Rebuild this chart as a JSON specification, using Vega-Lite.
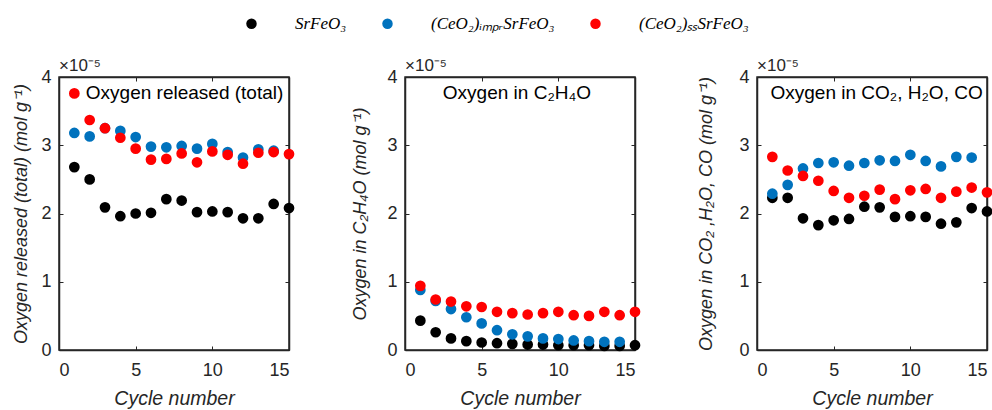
{
  "$schema": "https://vega.github.io/schema/vega-lite/v6.json",
  "padding": {"left": 12, "top": 15, "right": 0, "bottom": 0},
  "background": "white",
  "spacing": 55,
  "align": "none",
  "config": {
    "view": {"stroke": "#262626", "strokeWidth": 1.5},
    "axis": {
      "grid": false, "domain": true, "domainColor": "#262626", "domainWidth": 1.5,
      "labelFont": "Liberation Sans", "labelFontSize": 18, "labelColor": "#262626",
      "titleFont": "Liberation Sans", "titleFontSize": 18, "titleFontStyle": "italic", "titleFontWeight": "normal", "titleColor": "#262626",
      "tickColor": "#262626", "tickSize": -4, "tickWidth": 1, "labelPadding": 12
    },
    "axisX": {"labelPadding": 15},
    "legend": {
      "orient": "none", "direction": "horizontal", "legendX": 184, "legendY": -62,
      "labelFont": "Liberation Serif", "labelFontStyle": "italic", "labelFontSize": 17, "labelColor": "#000000",
      "symbolType": "circle", "symbolSize": 110, "symbolStrokeWidth": 0, "labelOffset": 35, "columnPadding": 32, "title": null
    },
    "text": {"font": "Liberation Sans", "color": "#000000"}
  },
  "data": {"values": [
    {"panel":"total","sample":"SrFeO₃","cycle":1,"value":2.68},
    {"panel":"total","sample":"SrFeO₃","cycle":2,"value":2.50},
    {"panel":"total","sample":"SrFeO₃","cycle":3,"value":2.09},
    {"panel":"total","sample":"SrFeO₃","cycle":4,"value":1.96},
    {"panel":"total","sample":"SrFeO₃","cycle":5,"value":2.00},
    {"panel":"total","sample":"SrFeO₃","cycle":6,"value":2.01},
    {"panel":"total","sample":"SrFeO₃","cycle":7,"value":2.21},
    {"panel":"total","sample":"SrFeO₃","cycle":8,"value":2.19},
    {"panel":"total","sample":"SrFeO₃","cycle":9,"value":2.02},
    {"panel":"total","sample":"SrFeO₃","cycle":10,"value":2.03},
    {"panel":"total","sample":"SrFeO₃","cycle":11,"value":2.02},
    {"panel":"total","sample":"SrFeO₃","cycle":12,"value":1.93},
    {"panel":"total","sample":"SrFeO₃","cycle":13,"value":1.93},
    {"panel":"total","sample":"SrFeO₃","cycle":14,"value":2.14},
    {"panel":"total","sample":"SrFeO₃","cycle":15,"value":2.08},
    {"panel":"total","sample":"(CeO₂)ᵢₘₚᵣSrFeO₃","cycle":1,"value":3.18},
    {"panel":"total","sample":"(CeO₂)ᵢₘₚᵣSrFeO₃","cycle":2,"value":3.13},
    {"panel":"total","sample":"(CeO₂)ᵢₘₚᵣSrFeO₃","cycle":3,"value":3.25},
    {"panel":"total","sample":"(CeO₂)ᵢₘₚᵣSrFeO₃","cycle":4,"value":3.21},
    {"panel":"total","sample":"(CeO₂)ᵢₘₚᵣSrFeO₃","cycle":5,"value":3.12},
    {"panel":"total","sample":"(CeO₂)ᵢₘₚᵣSrFeO₃","cycle":6,"value":2.98},
    {"panel":"total","sample":"(CeO₂)ᵢₘₚᵣSrFeO₃","cycle":7,"value":2.97},
    {"panel":"total","sample":"(CeO₂)ᵢₘₚᵣSrFeO₃","cycle":8,"value":2.99},
    {"panel":"total","sample":"(CeO₂)ᵢₘₚᵣSrFeO₃","cycle":9,"value":2.95},
    {"panel":"total","sample":"(CeO₂)ᵢₘₚᵣSrFeO₃","cycle":10,"value":3.02},
    {"panel":"total","sample":"(CeO₂)ᵢₘₚᵣSrFeO₃","cycle":11,"value":2.90},
    {"panel":"total","sample":"(CeO₂)ᵢₘₚᵣSrFeO₃","cycle":12,"value":2.82},
    {"panel":"total","sample":"(CeO₂)ᵢₘₚᵣSrFeO₃","cycle":13,"value":2.94},
    {"panel":"total","sample":"(CeO₂)ᵢₘₚᵣSrFeO₃","cycle":14,"value":2.92},
    {"panel":"total","sample":"(CeO₂)ₛₛSrFeO₃","cycle":1,"value":3.76},
    {"panel":"total","sample":"(CeO₂)ₛₛSrFeO₃","cycle":2,"value":3.37},
    {"panel":"total","sample":"(CeO₂)ₛₛSrFeO₃","cycle":3,"value":3.25},
    {"panel":"total","sample":"(CeO₂)ₛₛSrFeO₃","cycle":4,"value":3.11},
    {"panel":"total","sample":"(CeO₂)ₛₛSrFeO₃","cycle":5,"value":2.95},
    {"panel":"total","sample":"(CeO₂)ₛₛSrFeO₃","cycle":6,"value":2.79},
    {"panel":"total","sample":"(CeO₂)ₛₛSrFeO₃","cycle":7,"value":2.80},
    {"panel":"total","sample":"(CeO₂)ₛₛSrFeO₃","cycle":8,"value":2.88},
    {"panel":"total","sample":"(CeO₂)ₛₛSrFeO₃","cycle":9,"value":2.75},
    {"panel":"total","sample":"(CeO₂)ₛₛSrFeO₃","cycle":10,"value":2.91},
    {"panel":"total","sample":"(CeO₂)ₛₛSrFeO₃","cycle":11,"value":2.86},
    {"panel":"total","sample":"(CeO₂)ₛₛSrFeO₃","cycle":12,"value":2.73},
    {"panel":"total","sample":"(CeO₂)ₛₛSrFeO₃","cycle":13,"value":2.89},
    {"panel":"total","sample":"(CeO₂)ₛₛSrFeO₃","cycle":14,"value":2.90},
    {"panel":"total","sample":"(CeO₂)ₛₛSrFeO₃","cycle":15,"value":2.87},
    {"panel":"c2h4o","sample":"SrFeO₃","cycle":1,"value":0.43},
    {"panel":"c2h4o","sample":"SrFeO₃","cycle":2,"value":0.26},
    {"panel":"c2h4o","sample":"SrFeO₃","cycle":3,"value":0.17},
    {"panel":"c2h4o","sample":"SrFeO₃","cycle":4,"value":0.13},
    {"panel":"c2h4o","sample":"SrFeO₃","cycle":5,"value":0.11},
    {"panel":"c2h4o","sample":"SrFeO₃","cycle":6,"value":0.10},
    {"panel":"c2h4o","sample":"SrFeO₃","cycle":7,"value":0.09},
    {"panel":"c2h4o","sample":"SrFeO₃","cycle":8,"value":0.08},
    {"panel":"c2h4o","sample":"SrFeO₃","cycle":9,"value":0.08},
    {"panel":"c2h4o","sample":"SrFeO₃","cycle":10,"value":0.07},
    {"panel":"c2h4o","sample":"SrFeO₃","cycle":11,"value":0.07},
    {"panel":"c2h4o","sample":"SrFeO₃","cycle":12,"value":0.07},
    {"panel":"c2h4o","sample":"SrFeO₃","cycle":13,"value":0.06},
    {"panel":"c2h4o","sample":"SrFeO₃","cycle":14,"value":0.06},
    {"panel":"c2h4o","sample":"SrFeO₃","cycle":15,"value":0.07},
    {"panel":"c2h4o","sample":"(CeO₂)ᵢₘₚᵣSrFeO₃","cycle":1,"value":0.88},
    {"panel":"c2h4o","sample":"(CeO₂)ᵢₘₚᵣSrFeO₃","cycle":2,"value":0.72},
    {"panel":"c2h4o","sample":"(CeO₂)ᵢₘₚᵣSrFeO₃","cycle":3,"value":0.60},
    {"panel":"c2h4o","sample":"(CeO₂)ᵢₘₚᵣSrFeO₃","cycle":4,"value":0.48},
    {"panel":"c2h4o","sample":"(CeO₂)ᵢₘₚᵣSrFeO₃","cycle":5,"value":0.39},
    {"panel":"c2h4o","sample":"(CeO₂)ᵢₘₚᵣSrFeO₃","cycle":6,"value":0.29},
    {"panel":"c2h4o","sample":"(CeO₂)ᵢₘₚᵣSrFeO₃","cycle":7,"value":0.23},
    {"panel":"c2h4o","sample":"(CeO₂)ᵢₘₚᵣSrFeO₃","cycle":8,"value":0.20},
    {"panel":"c2h4o","sample":"(CeO₂)ᵢₘₚᵣSrFeO₃","cycle":9,"value":0.17},
    {"panel":"c2h4o","sample":"(CeO₂)ᵢₘₚᵣSrFeO₃","cycle":10,"value":0.16},
    {"panel":"c2h4o","sample":"(CeO₂)ᵢₘₚᵣSrFeO₃","cycle":11,"value":0.14},
    {"panel":"c2h4o","sample":"(CeO₂)ᵢₘₚᵣSrFeO₃","cycle":12,"value":0.13},
    {"panel":"c2h4o","sample":"(CeO₂)ᵢₘₚᵣSrFeO₃","cycle":13,"value":0.12},
    {"panel":"c2h4o","sample":"(CeO₂)ᵢₘₚᵣSrFeO₃","cycle":14,"value":0.12},
    {"panel":"c2h4o","sample":"(CeO₂)ₛₛSrFeO₃","cycle":1,"value":0.94},
    {"panel":"c2h4o","sample":"(CeO₂)ₛₛSrFeO₃","cycle":2,"value":0.74},
    {"panel":"c2h4o","sample":"(CeO₂)ₛₛSrFeO₃","cycle":3,"value":0.71},
    {"panel":"c2h4o","sample":"(CeO₂)ₛₛSrFeO₃","cycle":4,"value":0.64},
    {"panel":"c2h4o","sample":"(CeO₂)ₛₛSrFeO₃","cycle":5,"value":0.63},
    {"panel":"c2h4o","sample":"(CeO₂)ₛₛSrFeO₃","cycle":6,"value":0.56},
    {"panel":"c2h4o","sample":"(CeO₂)ₛₛSrFeO₃","cycle":7,"value":0.54},
    {"panel":"c2h4o","sample":"(CeO₂)ₛₛSrFeO₃","cycle":8,"value":0.52},
    {"panel":"c2h4o","sample":"(CeO₂)ₛₛSrFeO₃","cycle":9,"value":0.54},
    {"panel":"c2h4o","sample":"(CeO₂)ₛₛSrFeO₃","cycle":10,"value":0.56},
    {"panel":"c2h4o","sample":"(CeO₂)ₛₛSrFeO₃","cycle":11,"value":0.51},
    {"panel":"c2h4o","sample":"(CeO₂)ₛₛSrFeO₃","cycle":12,"value":0.50},
    {"panel":"c2h4o","sample":"(CeO₂)ₛₛSrFeO₃","cycle":13,"value":0.56},
    {"panel":"c2h4o","sample":"(CeO₂)ₛₛSrFeO₃","cycle":14,"value":0.51},
    {"panel":"c2h4o","sample":"(CeO₂)ₛₛSrFeO₃","cycle":15,"value":0.56},
    {"panel":"co2","sample":"SrFeO₃","cycle":1,"value":2.23},
    {"panel":"co2","sample":"SrFeO₃","cycle":2,"value":2.23},
    {"panel":"co2","sample":"SrFeO₃","cycle":3,"value":1.93},
    {"panel":"co2","sample":"SrFeO₃","cycle":4,"value":1.83},
    {"panel":"co2","sample":"SrFeO₃","cycle":5,"value":1.90},
    {"panel":"co2","sample":"SrFeO₃","cycle":6,"value":1.92},
    {"panel":"co2","sample":"SrFeO₃","cycle":7,"value":2.10},
    {"panel":"co2","sample":"SrFeO₃","cycle":8,"value":2.09},
    {"panel":"co2","sample":"SrFeO₃","cycle":9,"value":1.95},
    {"panel":"co2","sample":"SrFeO₃","cycle":10,"value":1.96},
    {"panel":"co2","sample":"SrFeO₃","cycle":11,"value":1.95},
    {"panel":"co2","sample":"SrFeO₃","cycle":12,"value":1.85},
    {"panel":"co2","sample":"SrFeO₃","cycle":13,"value":1.87},
    {"panel":"co2","sample":"SrFeO₃","cycle":14,"value":2.08},
    {"panel":"co2","sample":"SrFeO₃","cycle":15,"value":2.03},
    {"panel":"co2","sample":"(CeO₂)ᵢₘₚᵣSrFeO₃","cycle":1,"value":2.29},
    {"panel":"co2","sample":"(CeO₂)ᵢₘₚᵣSrFeO₃","cycle":2,"value":2.42},
    {"panel":"co2","sample":"(CeO₂)ᵢₘₚᵣSrFeO₃","cycle":3,"value":2.66},
    {"panel":"co2","sample":"(CeO₂)ᵢₘₚᵣSrFeO₃","cycle":4,"value":2.74},
    {"panel":"co2","sample":"(CeO₂)ᵢₘₚᵣSrFeO₃","cycle":5,"value":2.75},
    {"panel":"co2","sample":"(CeO₂)ᵢₘₚᵣSrFeO₃","cycle":6,"value":2.70},
    {"panel":"co2","sample":"(CeO₂)ᵢₘₚᵣSrFeO₃","cycle":7,"value":2.74},
    {"panel":"co2","sample":"(CeO₂)ᵢₘₚᵣSrFeO₃","cycle":8,"value":2.78},
    {"panel":"co2","sample":"(CeO₂)ᵢₘₚᵣSrFeO₃","cycle":9,"value":2.77},
    {"panel":"co2","sample":"(CeO₂)ᵢₘₚᵣSrFeO₃","cycle":10,"value":2.86},
    {"panel":"co2","sample":"(CeO₂)ᵢₘₚᵣSrFeO₃","cycle":11,"value":2.77},
    {"panel":"co2","sample":"(CeO₂)ᵢₘₚᵣSrFeO₃","cycle":12,"value":2.69},
    {"panel":"co2","sample":"(CeO₂)ᵢₘₚᵣSrFeO₃","cycle":13,"value":2.83},
    {"panel":"co2","sample":"(CeO₂)ᵢₘₚᵣSrFeO₃","cycle":14,"value":2.82},
    {"panel":"co2","sample":"(CeO₂)ₛₛSrFeO₃","cycle":1,"value":2.83},
    {"panel":"co2","sample":"(CeO₂)ₛₛSrFeO₃","cycle":2,"value":2.63},
    {"panel":"co2","sample":"(CeO₂)ₛₛSrFeO₃","cycle":3,"value":2.55},
    {"panel":"co2","sample":"(CeO₂)ₛₛSrFeO₃","cycle":4,"value":2.48},
    {"panel":"co2","sample":"(CeO₂)ₛₛSrFeO₃","cycle":5,"value":2.33},
    {"panel":"co2","sample":"(CeO₂)ₛₛSrFeO₃","cycle":6,"value":2.23},
    {"panel":"co2","sample":"(CeO₂)ₛₛSrFeO₃","cycle":7,"value":2.26},
    {"panel":"co2","sample":"(CeO₂)ₛₛSrFeO₃","cycle":8,"value":2.35},
    {"panel":"co2","sample":"(CeO₂)ₛₛSrFeO₃","cycle":9,"value":2.21},
    {"panel":"co2","sample":"(CeO₂)ₛₛSrFeO₃","cycle":10,"value":2.34},
    {"panel":"co2","sample":"(CeO₂)ₛₛSrFeO₃","cycle":11,"value":2.36},
    {"panel":"co2","sample":"(CeO₂)ₛₛSrFeO₃","cycle":12,"value":2.23},
    {"panel":"co2","sample":"(CeO₂)ₛₛSrFeO₃","cycle":13,"value":2.32},
    {"panel":"co2","sample":"(CeO₂)ₛₛSrFeO₃","cycle":14,"value":2.38},
    {"panel":"co2","sample":"(CeO₂)ₛₛSrFeO₃","cycle":15,"value":2.31}
  ]},
  "hconcat": [
    {
      "width": 230, "height": 273,
      "transform": [{"filter": "datum.panel === 'total'"}],
      "layer": [
        {
          "mark": {"type": "point", "filled": true, "size": 115, "opacity": 1},
          "encoding": {
            "x": {"field": "cycle", "type": "quantitative", "scale": {"domain": [0, 15], "nice": false}, "axis": {"values": [0, 5, 10, 15], "title": "Cycle number", "titleFontSize": 19.5, "titlePadding": 10}},
            "y": {"field": "value", "type": "quantitative", "scale": {"domain": [0, 4], "nice": false}, "axis": {"values": [0, 1, 2, 3, 4], "title": "Oxygen released (total) (mol g⁻¹)", "titlePadding": 10}},
            "color": {"field": "sample", "type": "nominal", "scale": {"domain": ["SrFeO₃", "(CeO₂)ᵢₘₚᵣSrFeO₃", "(CeO₂)ₛₛSrFeO₃"], "range": ["#000000", "#0072BD", "#FF0000"]}}
          }
        },
        {
          "data": {"values": [{"label": "Oxygen released (total)"}]},
          "mark": {"type": "text", "align": "left", "baseline": "middle", "fontSize": 19},
          "encoding": {
            "x": {"datum": 1.75, "type": "quantitative", "axis": {"orient": "top", "labels": false, "title": null, "values": [0, 5, 10, 15]}},
            "y": {"datum": 3.76, "type": "quantitative", "axis": {"orient": "right", "labels": false, "title": null, "values": [0, 1, 2, 3, 4]}},
            "text": {"field": "label"}
          }
        },
        {
          "data": {"values": [{"label": "×10⁻⁵"}]},
          "mark": {"type": "text", "align": "left", "baseline": "bottom", "fontSize": 17, "dy": -2, "color": "#262626"},
          "encoding": {
            "x": {"datum": 0, "type": "quantitative", "axis": null},
            "y": {"datum": 4, "type": "quantitative", "axis": null},
            "text": {"field": "label"}
          }
        }
      ],
      "resolve": {"axis": {"x": "independent", "y": "independent"}}
    },
    {
      "width": 230, "height": 273,
      "transform": [{"filter": "datum.panel === 'c2h4o'"}],
      "layer": [
        {
          "mark": {"type": "point", "filled": true, "size": 115, "opacity": 1},
          "encoding": {
            "x": {"field": "cycle", "type": "quantitative", "scale": {"domain": [0, 15], "nice": false}, "axis": {"values": [0, 5, 10, 15], "title": "Cycle number", "titleFontSize": 19.5, "titlePadding": 10}},
            "y": {"field": "value", "type": "quantitative", "scale": {"domain": [0, 4], "nice": false}, "axis": {"values": [0, 1, 2, 3, 4], "title": "Oxygen in C₂H₄O (mol g⁻¹)", "titlePadding": 17}},
            "color": {"field": "sample", "type": "nominal", "scale": {"domain": ["SrFeO₃", "(CeO₂)ᵢₘₚᵣSrFeO₃", "(CeO₂)ₛₛSrFeO₃"], "range": ["#000000", "#0072BD", "#FF0000"]}}
          }
        },
        {
          "data": {"values": [{"label": "Oxygen in C₂H₄O"}]},
          "mark": {"type": "text", "align": "center", "baseline": "middle", "fontSize": 19},
          "encoding": {
            "x": {"datum": 7.3, "type": "quantitative", "axis": {"orient": "top", "labels": false, "title": null, "values": [0, 5, 10, 15]}},
            "y": {"datum": 3.76, "type": "quantitative", "axis": {"orient": "right", "labels": false, "title": null, "values": [0, 1, 2, 3, 4]}},
            "text": {"field": "label"}
          }
        },
        {
          "data": {"values": [{"label": "×10⁻⁵"}]},
          "mark": {"type": "text", "align": "left", "baseline": "bottom", "fontSize": 17, "dy": -2, "color": "#262626"},
          "encoding": {
            "x": {"datum": 0, "type": "quantitative", "axis": null},
            "y": {"datum": 4, "type": "quantitative", "axis": null},
            "text": {"field": "label"}
          }
        }
      ],
      "resolve": {"axis": {"x": "independent", "y": "independent"}}
    },
    {
      "width": 230, "height": 273,
      "transform": [{"filter": "datum.panel === 'co2'"}],
      "layer": [
        {
          "mark": {"type": "point", "filled": true, "size": 115, "opacity": 1},
          "encoding": {
            "x": {"field": "cycle", "type": "quantitative", "scale": {"domain": [0, 15], "nice": false}, "axis": {"values": [0, 5, 10, 15], "title": "Cycle number", "titleFontSize": 19.5, "titlePadding": 10}},
            "y": {"field": "value", "type": "quantitative", "scale": {"domain": [0, 4], "nice": false}, "axis": {"values": [0, 1, 2, 3, 4], "title": "Oxygen in CO₂ ,H₂O, CO (mol g⁻¹)", "titlePadding": 23}},
            "color": {"field": "sample", "type": "nominal", "scale": {"domain": ["SrFeO₃", "(CeO₂)ᵢₘₚᵣSrFeO₃", "(CeO₂)ₛₛSrFeO₃"], "range": ["#000000", "#0072BD", "#FF0000"]}}
          }
        },
        {
          "data": {"values": [{"label": "Oxygen in CO₂, H₂O, CO"}]},
          "mark": {"type": "text", "align": "center", "baseline": "middle", "fontSize": 19},
          "encoding": {
            "x": {"datum": 7.8, "type": "quantitative", "axis": {"orient": "top", "labels": false, "title": null, "values": [0, 5, 10, 15]}},
            "y": {"datum": 3.76, "type": "quantitative", "axis": {"orient": "right", "labels": false, "title": null, "values": [0, 1, 2, 3, 4]}},
            "text": {"field": "label"}
          }
        },
        {
          "data": {"values": [{"label": "×10⁻⁵"}]},
          "mark": {"type": "text", "align": "left", "baseline": "bottom", "fontSize": 17, "dy": -2, "color": "#262626"},
          "encoding": {
            "x": {"datum": 0, "type": "quantitative", "axis": null},
            "y": {"datum": 4, "type": "quantitative", "axis": null},
            "text": {"field": "label"}
          }
        }
      ],
      "resolve": {"axis": {"x": "independent", "y": "independent"}}
    }
  ]
}
